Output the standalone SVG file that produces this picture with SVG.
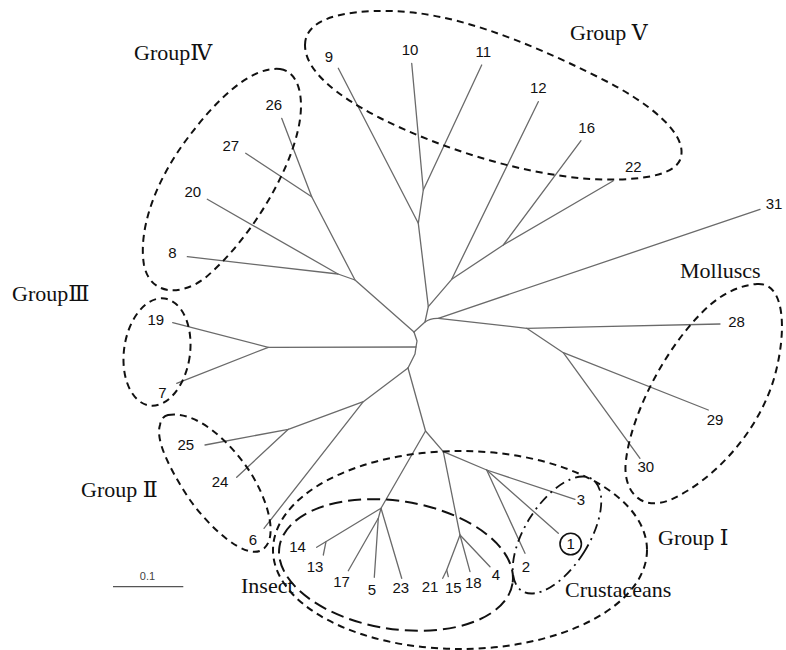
<svg xmlns="http://www.w3.org/2000/svg" width="786" height="650" viewBox="0 0 786 650">
<style>
.br{fill:none;stroke:#6a6a6a;stroke-width:1.3;stroke-linejoin:round;stroke-linecap:round}
.lb{font-family:"Liberation Sans","Open Sans",sans-serif;font-size:15px;fill:#111;text-anchor:middle}
.gl{font-family:"Liberation Serif","DejaVu Serif","Noto Sans CJK SC",serif;font-size:22px;fill:#111}
.dash{fill:none;stroke:#111;stroke-width:2;stroke-dasharray:7 5}
.ldash{fill:none;stroke:#111;stroke-width:2;stroke-dasharray:13 6}
.dd{fill:none;stroke:#111;stroke-width:1.8;stroke-dasharray:10 5 2 5}
</style>
<rect width="786" height="650" fill="#fff"/>
<g id="connectors">
<polyline class="br" points="414,332 417,341 416,347 415,354 408,368"/>
<polyline class="br" points="414,332 425,322 428.3,306.7 418.3,223.3 423.3,190 411.7,63.3"/>
<line class="br" x1="423.3" y1="190" x2="481.7" y2="65"/>
<line class="br" x1="418.3" y1="223.3" x2="338.3" y2="68.3"/>
<polyline class="br" points="428.3,306.7 451.7,279.3 538.3,101.7"/>
<polyline class="br" points="451.7,279.3 503.3,245 581,140.7"/>
<line class="br" x1="503.3" y1="245" x2="613" y2="181"/>
<path class="br" d="M425,322 Q430,318 438.3,318.3 L760,209.3"/>
<polyline class="br" points="438.3,318.3 526.7,328.3 600,326.7 720,324"/>
<polyline class="br" points="526.7,328.3 563.3,352.7 708.3,410"/>
<line class="br" x1="563.3" y1="352.7" x2="640" y2="458.3"/>
<polyline class="br" points="414,332 355,280 338,274 187.3,256.7"/>
<line class="br" x1="338" y1="274" x2="207.3" y2="199.3"/>
<polyline class="br" points="355,280 311.7,196.7 281.7,118.3"/>
<line class="br" x1="311.7" y1="196.7" x2="245.7" y2="153.3"/>
<polyline class="br" points="416,347 268.3,347.3 172.7,322.7"/>
<line class="br" x1="268.3" y1="347.3" x2="176.7" y2="383.3"/>
<polyline class="br" points="408,368 363.3,401.7 288.3,429.3 205,445"/>
<line class="br" x1="288.3" y1="429.3" x2="236.7" y2="477.3"/>
<line class="br" x1="363.3" y1="401.7" x2="264" y2="528.3"/>
<polyline class="br" points="408,368 425.5,431 443.3,451.7 460,535 446.7,570 442.7,578.3"/>
<line class="br" x1="446.7" y1="570" x2="448.3" y2="576.7"/>
<line class="br" x1="460" y1="535" x2="470" y2="571.7"/>
<line class="br" x1="460" y1="535" x2="490" y2="566.7"/>
<polyline class="br" points="443.3,451.7 486.7,470 575,499.3"/>
<line class="br" x1="486.7" y1="470" x2="558.3" y2="533.3"/>
<line class="br" x1="486.7" y1="470" x2="525" y2="553.3"/>
<polyline class="br" points="425.5,431 381,508.3 316.7,547.3"/>
<line class="br" x1="326" y1="541.7" x2="323.3" y2="555"/>
<polyline class="br" points="381,508.3 378.3,518.3 348.3,570.7"/>
<line class="br" x1="378.3" y1="518.3" x2="374.3" y2="577.3"/>
<line class="br" x1="381" y1="508.3" x2="401.7" y2="578.3"/>
</g>
<g id="leaves">
<g id="n9"><text class="lb" x="329" y="61.7">9</text></g>
<g id="n10"><text class="lb" x="410" y="55">10</text></g>
<g id="n11"><text class="lb" x="483.3" y="56.7">11</text></g>
<g id="n12"><text class="lb" x="538.3" y="93.3">12</text></g>
<g id="n16"><text class="lb" x="586.7" y="133.3">16</text></g>
<g id="n22"><text class="lb" x="633.3" y="171.7">22</text></g>
<g id="n26"><text class="lb" x="273.8" y="110">26</text></g>
<g id="n27"><text class="lb" x="230.8" y="151">27</text></g>
<g id="n20"><text class="lb" x="192.8" y="196.7">20</text></g>
<g id="n8"><text class="lb" x="172.5" y="258.3">8</text></g>
<g id="n19"><text class="lb" x="155.8" y="325">19</text></g>
<g id="n7"><text class="lb" x="162.5" y="398.3">7</text></g>
<g id="n25"><text class="lb" x="185.8" y="450">25</text></g>
<g id="n24"><text class="lb" x="220" y="486.7">24</text></g>
<g id="n6"><text class="lb" x="252.8" y="545">6</text></g>
<g id="n14"><text class="lb" x="297.5" y="551.7">14</text></g>
<g id="n13"><text class="lb" x="315" y="571.7">13</text></g>
<g id="n17"><text class="lb" x="341.5" y="587">17</text></g>
<g id="n5"><text class="lb" x="372" y="595">5</text></g>
<g id="n23"><text class="lb" x="400.8" y="593.3">23</text></g>
<g id="n21"><text class="lb" x="430" y="591.7">21</text></g>
<g id="n15"><text class="lb" x="453.3" y="593.3">15</text></g>
<g id="n18"><text class="lb" x="473.3" y="588.3">18</text></g>
<g id="n4"><text class="lb" x="495.8" y="580">4</text></g>
<g id="n2"><text class="lb" x="525.8" y="571.7">2</text></g>
<g id="n3"><text class="lb" x="580.8" y="505">3</text></g>
<g id="n1"><circle cx="570.7" cy="544" r="10.7" fill="none" stroke="#111" stroke-width="1.6"/><text class="lb" x="570.7" y="549.3">1</text></g>
<g id="n30"><text class="lb" x="645.8" y="471.7">30</text></g>
<g id="n29"><text class="lb" x="715" y="425">29</text></g>
<g id="n28"><text class="lb" x="736.5" y="326.7">28</text></g>
<g id="n31"><text class="lb" x="774" y="209">31</text></g>
</g>
<g id="groupV"><path class="dash" d="M305,45 C305,20 340,10 390,11 C450,12 520,38 600,78 C650,103 690,135 680,160 C672,178 630,181 590,179 C520,174 440,148 380,118 C335,95 305,70 305,45 Z"/><text class="gl" x="570" y="40">Group Ⅴ</text></g>
<g id="groupIV"><path class="dash" d="M280,69 C300,72 305,100 298,130 C288,175 250,240 205,278 C180,297 150,295 144,265 C138,230 155,180 190,135 C215,102 250,66 280,69 Z"/><text class="gl" x="134" y="60">GroupⅣ</text></g>
<g id="groupIII"><ellipse class="dash" cx="157" cy="352" rx="33" ry="54" transform="rotate(8 157 352)"/><text class="gl" x="12" y="300.5">GroupⅢ</text></g>
<g id="groupII"><path class="dash" d="M168,415 C195,410 230,440 252,475 C270,505 278,540 262,550 C245,560 210,528 190,500 C170,470 155,440 160,425 C161,419 164,416 168,415 Z"/><text class="gl" x="81" y="497">Group Ⅱ</text></g>
<g id="molluscs"><path class="dash" d="M757,284 C785,282 787,330 775,375 C760,430 715,480 670,500 C640,512 622,490 626,460 C632,410 670,340 710,305 C725,292 742,285 757,284 Z"/><text class="gl" x="680" y="278">Molluscs</text></g>
<g id="groupI"><ellipse class="dash" cx="460" cy="550" rx="187" ry="99"/><text class="gl" x="658" y="545">Group Ⅰ</text></g>
<g id="insect"><ellipse class="ldash" cx="396" cy="565" rx="118" ry="64" transform="rotate(9 396 565)"/><text class="gl" x="241" y="593">Insect</text></g>
<g id="crustaceans"><ellipse class="dd" cx="557" cy="535" rx="32" ry="66" transform="rotate(32 557 535)"/><text class="gl" x="565" y="596.5">Crustaceans</text></g>
<g id="scale"><line x1="113" y1="586.7" x2="183.3" y2="586.7" stroke="#555" stroke-width="1.3"/><text x="147.5" y="580" font-family="Liberation Sans, Arial, sans-serif" font-size="11" fill="#444" text-anchor="middle">0.1</text></g>
</svg>
